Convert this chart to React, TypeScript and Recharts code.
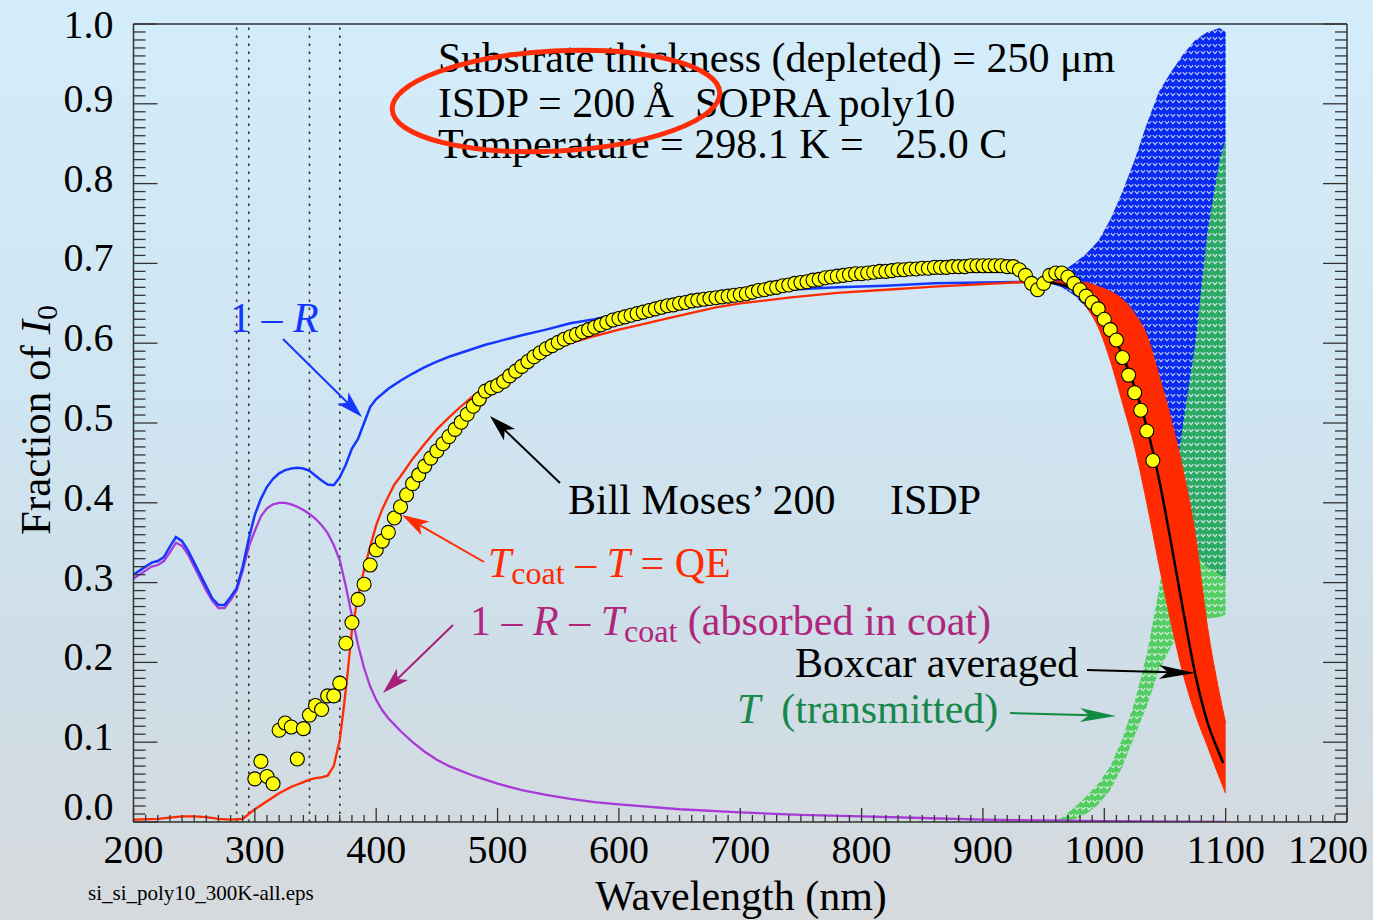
import React from 'react'
import { ComposedChart, Line, Area, Scatter, XAxis, YAxis, ReferenceLine } from 'recharts'

// 1 - R (blue), smooth part below the fringe region
const R_WL = [200, 205, 210, 215, 220, 225, 230, 235, 240, 245, 250, 255, 260, 265, 270, 275, 280, 285, 290, 295,
  300, 305, 310, 315, 320, 325, 330, 335, 340, 345, 350, 355, 360, 365, 370, 375, 380, 385, 390, 395,
  400, 410, 420, 430, 440, 450, 460, 470, 480, 490, 500, 520, 540, 560, 580, 600, 620, 640, 660, 680,
  700, 740, 780, 820, 860, 900, 940, 960]
const R_VAL = [0.310, 0.315, 0.320, 0.325, 0.327, 0.332, 0.345, 0.357, 0.352, 0.340, 0.325, 0.310, 0.295, 0.280, 0.272, 0.272, 0.282, 0.293, 0.320, 0.355,
  0.385, 0.405, 0.420, 0.430, 0.437, 0.441, 0.443, 0.444, 0.443, 0.440, 0.434, 0.428, 0.423, 0.422, 0.432, 0.448, 0.468, 0.480, 0.500, 0.520,
  0.530, 0.543, 0.553, 0.562, 0.570, 0.577, 0.583, 0.588, 0.593, 0.598, 0.602, 0.610, 0.617, 0.625, 0.630, 0.637, 0.641, 0.645, 0.649, 0.654,
  0.658, 0.667, 0.670, 0.672, 0.675, 0.676, 0.677, 0.677]

// 1 - R - Tcoat (purple)
const A_WL = [200, 205, 210, 215, 220, 225, 230, 235, 240, 245, 250, 255, 260, 265, 270, 275, 280, 285, 290, 295,
  300, 305, 310, 315, 320, 325, 330, 335, 340, 345, 350, 355, 360, 365, 370, 375, 380, 385, 390, 395,
  400, 405, 410, 415, 420, 430, 440, 450, 460, 470, 480, 500, 520, 540, 560, 580, 600, 650, 700, 750,
  800, 850, 900, 950, 1000, 1100]
const A_VAL = [0.305, 0.310, 0.315, 0.320, 0.322, 0.327, 0.338, 0.350, 0.346, 0.335, 0.320, 0.305, 0.290, 0.277, 0.268, 0.268, 0.278, 0.290, 0.315, 0.345,
  0.365, 0.383, 0.393, 0.398, 0.400, 0.400, 0.398, 0.395, 0.391, 0.386, 0.380, 0.372, 0.362, 0.347, 0.328, 0.295, 0.258, 0.222, 0.193, 0.170,
  0.153, 0.140, 0.130, 0.122, 0.114, 0.100, 0.088, 0.078, 0.070, 0.064, 0.058, 0.048, 0.040, 0.034, 0.029, 0.025, 0.022, 0.016, 0.012, 0.009,
  0.007, 0.005, 0.003, 0.002, 0.001, 0.000]

// Tcoat - T = QE (red), smooth part
const Q_WL = [200, 220, 240, 250, 260, 270, 280, 290, 295, 300, 305, 310, 315, 320, 325, 330, 335, 340, 345, 350,
  355, 360, 365, 370, 373, 376, 380, 385, 390, 395, 400, 405, 410, 415, 420, 430, 440, 450, 460, 470,
  480, 490, 500, 520, 540, 560, 580, 600, 620, 640, 660, 680, 700, 740, 780, 820, 860, 900, 940, 960]
const Q_VAL = [0.003, 0.004, 0.007, 0.007, 0.006, 0.004, 0.003, 0.004, 0.010, 0.016, 0.021, 0.026, 0.031, 0.036, 0.040, 0.044, 0.047, 0.050, 0.053, 0.055,
  0.056, 0.058, 0.070, 0.103, 0.140, 0.180, 0.240, 0.283, 0.316, 0.345, 0.372, 0.392, 0.408, 0.423, 0.433, 0.455, 0.474, 0.492, 0.507, 0.521,
  0.534, 0.546, 0.556, 0.574, 0.588, 0.600, 0.609, 0.617, 0.624, 0.631, 0.638, 0.645, 0.650, 0.657, 0.663, 0.667, 0.671, 0.674, 0.677, 0.677]

// T (transmitted) before the fringes start
const T_WL = [200, 955]
const T_VAL = [0, 0]

// fringe region: min / max envelopes
const BAND_WL = [955, 965, 975, 985, 995, 1005, 1015, 1025, 1035, 1045, 1055, 1065, 1075, 1085, 1095, 1100]
const RED_LO = [0.677, 0.673, 0.665, 0.646, 0.620, 0.578, 0.525, 0.470, 0.400, 0.323, 0.250, 0.185, 0.135, 0.095, 0.055, 0.036]
const RED_HI = [0.677, 0.678, 0.677, 0.676, 0.671, 0.665, 0.655, 0.637, 0.610, 0.560, 0.505, 0.440, 0.360, 0.245, 0.160, 0.124]
const BLUE_LO = [0.675, 0.670, 0.660, 0.645, 0.625, 0.600, 0.570, 0.530, 0.480, 0.430, 0.390, 0.360, 0.335, 0.320, 0.310, 0.305]
const BLUE_HI = [0.677, 0.690, 0.700, 0.712, 0.728, 0.755, 0.790, 0.830, 0.875, 0.915, 0.940, 0.962, 0.980, 0.990, 0.995, 0.990]
const GREEN_LO = [0, 0, 0.003, 0.010, 0.022, 0.040, 0.070, 0.108, 0.145, 0.190, 0.220, 0.240, 0.250, 0.255, 0.257, 0.260]
const GREEN_HI = [0, 0.005, 0.018, 0.032, 0.048, 0.070, 0.105, 0.150, 0.210, 0.290, 0.390, 0.500, 0.600, 0.740, 0.830, 0.855]

// boxcar averaged QE (black)
const BOX_WL = [955, 965, 975, 985, 995, 1005, 1015, 1025, 1035, 1045, 1055, 1065, 1075, 1085, 1095, 1098]
const BOX_VAL = [0.676, 0.673, 0.668, 0.657, 0.639, 0.617, 0.585, 0.545, 0.495, 0.430, 0.350, 0.265, 0.185, 0.125, 0.085, 0.074]

// Bill Moses' measured QE (yellow circles)
const QE_WL = [300, 305, 310, 315, 320, 325, 330, 335, 340, 345,
  350, 355, 360, 365, 370, 375, 380, 385, 390, 395,
  400, 405, 410, 415, 420, 425, 430, 435, 440, 445,
  450, 455, 460, 465, 470, 475, 480, 485, 490, 495,
  500, 505, 510, 515, 520, 525, 530, 535, 540, 545,
  550, 555, 560, 565, 570, 575, 580, 585, 590, 595,
  600, 605, 610, 615, 620, 625, 630, 635, 640, 645,
  650, 655, 660, 665, 670, 675, 680, 685, 690, 695,
  700, 705, 710, 715, 720, 725, 730, 735, 740, 745,
  750, 755, 760, 765, 770, 775, 780, 785, 790, 795,
  800, 805, 810, 815, 820, 825, 830, 835, 840, 845,
  850, 855, 860, 865, 870, 875, 880, 885, 890, 895,
  900, 905, 910, 915, 920, 925, 930, 935, 940, 945,
  950, 955, 960, 965, 970, 975, 980, 985, 990, 995,
  1000, 1005, 1010, 1015, 1020, 1025, 1030, 1035, 1040]
const QE_VAL = [0.054, 0.076, 0.057, 0.048, 0.115, 0.124, 0.119, 0.079, 0.117, 0.134,
  0.146, 0.141, 0.158, 0.158, 0.174, 0.224, 0.250, 0.279, 0.298, 0.322,
  0.341, 0.352, 0.363, 0.381, 0.395, 0.410, 0.424, 0.435, 0.446, 0.456,
  0.465, 0.474, 0.483, 0.492, 0.501, 0.511, 0.521, 0.530, 0.540, 0.544,
  0.547, 0.552, 0.559, 0.565, 0.571, 0.577, 0.583, 0.588, 0.593, 0.597,
  0.601, 0.605, 0.608, 0.611, 0.614, 0.617, 0.620, 0.623, 0.626, 0.629,
  0.631, 0.633, 0.635, 0.637, 0.639, 0.641, 0.643, 0.645, 0.647, 0.648,
  0.650, 0.651, 0.653, 0.654, 0.655, 0.656, 0.657, 0.658, 0.659, 0.660,
  0.661, 0.662, 0.664, 0.666, 0.667, 0.669, 0.670, 0.672, 0.673, 0.675,
  0.676, 0.677, 0.679, 0.680, 0.682, 0.683, 0.684, 0.685, 0.686, 0.687,
  0.687, 0.688, 0.689, 0.690, 0.690, 0.691, 0.692, 0.692, 0.693, 0.693,
  0.694, 0.694, 0.695, 0.695, 0.695, 0.696, 0.696, 0.696, 0.697, 0.697,
  0.697, 0.697, 0.697, 0.697, 0.696, 0.696, 0.692, 0.685, 0.675, 0.667,
  0.675, 0.685, 0.688, 0.688, 0.683, 0.675, 0.667, 0.659, 0.651, 0.643,
  0.630, 0.617, 0.604, 0.582, 0.560, 0.538, 0.516, 0.490, 0.453]

const DOTTED_WL = [285, 295, 345, 370]

const X_MAJOR = [200, 300, 400, 500, 600, 700, 800, 900, 1000, 1100, 1200]
const Y_MAJOR = ['0.0', '0.1', '0.2', '0.3', '0.4', '0.5', '0.6', '0.7', '0.8', '0.9', '1.0']
const X_TICKS = Array.from({ length: 101 }, (_, i) => 200 + i * 10)
const Y_TICKS = Array.from({ length: 101 }, (_, i) => i / 100)

const SERIF = '"Liberation Serif", "Times New Roman", Times, serif'
const AXIS = '#333'
const NB = '\u00a0'
const THIN = '\u2009'

type Row = { wl: number; [k: string]: number | number[] }

function buildRows(): Row[] {
  const m = new Map<number, Row>()
  const put = (wl: number, key: string, v: number | number[]) => {
    const row = m.get(wl) ?? { wl }
    row[key] = v
    m.set(wl, row)
  }
  R_WL.forEach((w, i) => put(w, 'oneMinusR', R_VAL[i]))
  A_WL.forEach((w, i) => put(w, 'absorbed', A_VAL[i]))
  Q_WL.forEach((w, i) => put(w, 'qe', Q_VAL[i]))
  T_WL.forEach((w, i) => put(w, 'trans', T_VAL[i]))
  BOX_WL.forEach((w, i) => put(w, 'boxcar', BOX_VAL[i]))
  BAND_WL.forEach((w, i) => {
    put(w, 'redBand', [RED_LO[i], RED_HI[i]])
    put(w, 'blueBand', [BLUE_LO[i], BLUE_HI[i]])
    put(w, 'greenBand', [GREEN_LO[i], GREEN_HI[i]])
  })
  return [...m.values()].sort((a, b) => a.wl - b.wl)
}

const rows = buildRows()
const measured = QE_WL.map((wl, i) => ({ wl, measured: QE_VAL[i] }))

function BottomTick(p: any) {
  const v = p.payload.value
  const major = v % 100 === 0
  const last = v === 1200
  return (
    <g>
      <line x1={p.x} x2={p.x} y1={p.y} y2={p.y - (major ? 14 : 7)} stroke={AXIS} strokeWidth={1.3} />
      {major && (
        <text
          x={last ? p.x + 21 : p.x}
          y={p.y + 41}
          textAnchor={last ? 'end' : 'middle'}
          fontSize={40}
          fontFamily={SERIF}
          fill="#000"
        >
          {X_MAJOR.includes(v) ? v : ''}
        </text>
      )}
    </g>
  )
}

function TopTick(p: any) {
  const major = p.payload.value % 100 === 0
  return <line x1={p.x} x2={p.x} y1={p.y} y2={p.y + (major ? 15 : 7.5)} stroke={AXIS} strokeWidth={1.3} />
}

function LeftTick(p: any) {
  const i = Math.round(p.payload.value * 100)
  const major = i % 10 === 0
  const dy = i === 100 ? 14 : i === 0 ? -2 : 8
  return (
    <g>
      <line x1={p.x} x2={p.x + (major ? 24 : 12)} y1={p.y} y2={p.y} stroke={AXIS} strokeWidth={1.3} />
      {major && (
        <text x={p.x - 20} y={p.y + dy} textAnchor="end" fontSize={40} fontFamily={SERIF} fill="#000">
          {Y_MAJOR[i / 10]}
        </text>
      )}
    </g>
  )
}

function RightTick(p: any) {
  const major = Math.round(p.payload.value * 100) % 10 === 0
  return <line x1={p.x} x2={p.x - (major ? 24 : 12)} y1={p.y} y2={p.y} stroke={AXIS} strokeWidth={1.3} />
}

function Circle(p: any) {
  if (p.cx == null || p.cy == null) return null
  return <circle cx={p.cx} cy={p.cy} r={7} fill="#ffff0a" stroke="#000" strokeWidth={1.1} />
}

function Arrow({ x1, y1, x2, y2, color, head = 27, half = 8, width = 2 }: {
  x1: number; y1: number; x2: number; y2: number; color: string; head?: number; half?: number; width?: number
}) {
  const dx = x2 - x1
  const dy = y2 - y1
  const len = Math.hypot(dx, dy)
  const ux = dx / len
  const uy = dy / len
  const bx = x2 - ux * head
  const by = y2 - uy * head
  const pts = `${x2},${y2} ${bx - uy * half},${by + ux * half} ${x2 - ux * head * 0.75},${y2 - uy * head * 0.75} ${bx + uy * half},${by - ux * half}`
  return (
    <g>
      <line x1={x1} y1={y1} x2={x2 - ux * head * 0.7} y2={y2 - uy * head * 0.7} stroke={color} strokeWidth={width} />
      <polygon points={pts} fill={color} />
    </g>
  )
}

export default function App() {
  return (
    <div
      style={{
        position: 'fixed',
        left: 0,
        top: 0,
        width: 1373,
        height: 920,
        overflow: 'hidden',
        background: 'linear-gradient(to bottom, #d4edfa 0%, #cfe5f1 45%, #cfdde6 75%, #d7dadd 100%)',
      }}
    >
      <svg width={0} height={0} style={{ position: 'absolute' }}>
        <defs>
          <pattern id="blueFringe" patternUnits="userSpaceOnUse" width="6" height="7">
            <rect width="6" height="7" fill="#0a2af2" />
            <path d="M0.8 2.2 L3 4.6 L5.2 2.2" fill="none" stroke="#b9cdf3" strokeWidth="1.1" />
          </pattern>
          <pattern id="greenFringe" patternUnits="userSpaceOnUse" width="6" height="7">
            <rect width="6" height="7" fill="#34c942" />
            <path d="M0.8 2.2 L3 4.6 L5.2 2.2" fill="none" stroke="#d2eed8" strokeWidth="1.3" />
          </pattern>
        </defs>
      </svg>

      <ComposedChart
        width={1373}
        height={920}
        data={rows}
        margin={{ top: 23, right: 25, bottom: 38, left: 33.5 }}
        style={{ position: 'absolute', left: 0, top: 0 }}
      >
        <XAxis
          dataKey="wl"
          type="number"
          domain={[200, 1200]}
          allowDataOverflow
          ticks={X_TICKS}
          interval={0}
          height={60}
          tickSize={0}
          tickMargin={0}
          tickLine={false}
          axisLine={{ stroke: AXIS, strokeWidth: 1.5 }}
          tick={(p: any) => <BottomTick {...p} />}
        />
        <XAxis
          xAxisId="top"
          orientation="top"
          type="number"
          domain={[200, 1200]}
          allowDataOverflow
          ticks={X_TICKS}
          interval={0}
          height={1}
          tickSize={0}
          tickMargin={0}
          tickLine={false}
          axisLine={{ stroke: AXIS, strokeWidth: 1.5 }}
          tick={(p: any) => <TopTick {...p} />}
        />
        <YAxis
          type="number"
          domain={[0, 1]}
          allowDataOverflow
          ticks={Y_TICKS}
          interval={0}
          width={100}
          tickSize={0}
          tickMargin={0}
          tickLine={false}
          axisLine={{ stroke: AXIS, strokeWidth: 1.5 }}
          tick={(p: any) => <LeftTick {...p} />}
        />
        <YAxis
          yAxisId="right"
          orientation="right"
          type="number"
          domain={[0, 1]}
          allowDataOverflow
          ticks={Y_TICKS}
          interval={0}
          width={1}
          tickSize={0}
          tickMargin={0}
          tickLine={false}
          axisLine={{ stroke: AXIS, strokeWidth: 1.5 }}
          tick={(p: any) => <RightTick {...p} />}
        />

        {DOTTED_WL.map((w) => (
          <ReferenceLine key={w} x={w} stroke="#333" strokeWidth={1.6} strokeDasharray="2.5 5.5" />
        ))}

        <Line dataKey="trans" stroke="#2ec43c" strokeWidth={1.5} strokeDasharray="3 4" dot={false} connectNulls isAnimationActive={false} />
        <Line dataKey="absorbed" stroke="#a93ad8" strokeWidth={2.3} dot={false} connectNulls type="linear" isAnimationActive={false} />
        <Line dataKey="oneMinusR" stroke="#1437ff" strokeWidth={2.5} dot={false} connectNulls type="linear" isAnimationActive={false} />
        <Area dataKey="blueBand" stroke="none" fill="url(#blueFringe)" fillOpacity={1} connectNulls type="linear" activeDot={false} isAnimationActive={false} />
        <Area dataKey="greenBand" stroke="none" fill="url(#greenFringe)" fillOpacity={0.8} connectNulls type="linear" activeDot={false} isAnimationActive={false} />
        <Line dataKey="qe" stroke="#ff2a00" strokeWidth={2.3} dot={false} connectNulls type="linear" isAnimationActive={false} />
        <Area dataKey="redBand" stroke="#ff2a00" strokeWidth={1} fill="#ff2a00" fillOpacity={1} connectNulls type="monotone" activeDot={false} isAnimationActive={false} />
        <Scatter data={measured} dataKey="measured" shape={(p: any) => <Circle {...p} />} isAnimationActive={false} />
        <Line dataKey="boxcar" stroke="#000" strokeWidth={2.5} dot={false} connectNulls type="monotone" isAnimationActive={false} />
      </ComposedChart>

      <svg
        width={1373}
        height={920}
        style={{ position: 'absolute', left: 0, top: 0, pointerEvents: 'none' }}
        fontFamily={SERIF}
      >
        <g fontSize={42} fill="#000">
          <text x={438} y={72}>Substrate thickness (depleted) = 250 μm</text>
          <text x={438} y={117}>{`ISDP = 200${THIN}Å${NB}${NB}SOPRA poly10`}</text>
          <text x={438} y={158}>{`Temperature = 298.1 K =${NB}${NB}${NB}25.0 C`}</text>
        </g>
        <ellipse cx={556} cy={101} rx={164} ry={50} transform="rotate(-3 556 101)" fill="none" stroke="#ff2d0a" strokeWidth={5} />

        <g fontSize={42}>
          <text x={230} y={332} fill="#1437ff">
            {`1 – `}<tspan fontStyle="italic">R</tspan>
          </text>
          <text x={568} y={514} fill="#000">Bill Moses’ 200</text>
          <text x={890} y={514} fill="#000">ISDP</text>
          <text x={488} y={577} fill="#ff2a00">
            <tspan fontStyle="italic">T</tspan>
            <tspan fontSize={32} dy={7}>coat</tspan>
            <tspan dy={-7}>{`${NB}–${NB}`}</tspan>
            <tspan fontStyle="italic">T</tspan>
            <tspan>{`${NB}=${NB}QE`}</tspan>
          </text>
          <text x={470} y={635} fill="#b0267c">
            <tspan>{`1${NB}–${NB}`}</tspan>
            <tspan fontStyle="italic">R</tspan>
            <tspan>{`${NB}–${NB}`}</tspan>
            <tspan fontStyle="italic">T</tspan>
            <tspan fontSize={32} dy={7}>coat</tspan>
            <tspan dy={-7}>{`${NB}(absorbed in coat)`}</tspan>
          </text>
          <text x={795} y={677} fill="#000">Boxcar averaged</text>
          <text x={737} y={723} fill="#17884a">
            <tspan fontStyle="italic">T</tspan>
            <tspan>{`${NB}${NB}(transmitted)`}</tspan>
          </text>
        </g>

        <Arrow x1={283} y1={339} x2={362} y2={417} color="#1437ff" />
        <Arrow x1={560} y1={483} x2={490} y2={416} color="#000" />
        <Arrow x1={484} y1={562} x2={402} y2={515} color="#ff2a00" />
        <Arrow x1={453} y1={625} x2={383} y2={693} color="#a8207a" />
        <Arrow x1={1087} y1={670} x2={1195} y2={673} color="#000" head={36} half={7} />
        <Arrow x1={1010} y1={713} x2={1116} y2={716} color="#118a44" head={36} half={7} />

        <text x={741} y={910} textAnchor="middle" fontSize={42} fill="#000">Wavelength (nm)</text>
        <text transform="translate(50,420) rotate(-90)" textAnchor="middle" fontSize={43} fill="#000">
          {`Fraction of${NB}`}<tspan fontStyle="italic">I</tspan>
          <tspan fontSize={30} dy={7}>0</tspan>
        </text>
        <text x={88} y={900} fontSize={21} fill="#000">si_si_poly10_300K-all.eps</text>
      </svg>
    </div>
  )
}
